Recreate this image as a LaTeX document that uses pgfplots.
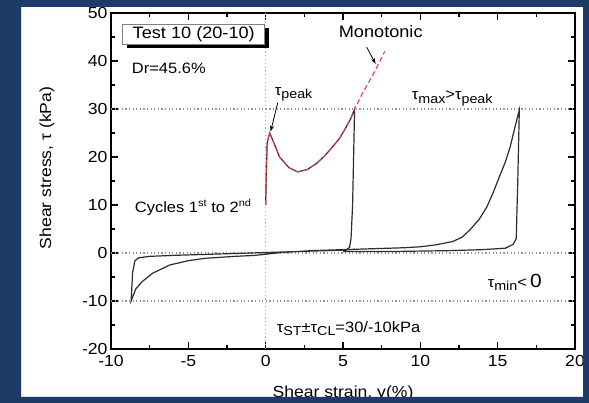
\documentclass[border=0pt]{standalone}
\usepackage{fontspec}
\setmainfont{Liberation Sans}[FakeStretch=1.1]
\usepackage{pgfplots}
\pgfplotsset{compat=1.18}
\usetikzlibrary{shadows,arrows.meta}

\definecolor{slideblue}{RGB}{30,58,102}
\definecolor{refgray}{RGB}{150,150,150}
\definecolor{monored}{RGB}{228,60,72}
\definecolor{curvegray}{RGB}{45,45,45}

\newcommand{\lowtxt}[1]{\raisebox{-0.45ex}{\fontsize{13bp}{15bp}\selectfont #1}}
\newcommand{\hightxt}[1]{\raisebox{0.7ex}{\fontsize{10bp}{12bp}\selectfont #1}}

\begin{document}
\begin{tikzpicture}
\path[use as bounding box] (0bp,0bp) rectangle (589bp,403bp);
\clip (0bp,0bp) rectangle (589bp,403bp);
\fill[slideblue] (0bp,0bp) rectangle (589bp,403bp);
\fill[white] (21bp,6bp) rectangle (583bp,396bp);
\begin{axis}[
  at={(111bp,54bp)}, anchor=south west,
  scale only axis, width=464bp, height=336bp,
  xmin=-10, xmax=20, ymin=-20, ymax=50,
  xtick={-10,-5,...,20}, ytick={-20,-10,...,50},
  minor tick num=1,
  tick align=inside, tick pos=both,
  major tick length=7bp, minor tick length=4bp,
  axis line style={line width=1.2bp},
  every tick/.style={black, line width=1.1bp},
  tick label style={font=\fontsize{16bp}{19bp}\selectfont},
  /pgf/number format/assume math mode=true,
  xticklabel style={yshift=-3bp},
  xlabel={Shear strain, γ(\%)},
  ylabel={Shear stress, τ (kPa)},
  label style={font=\fontsize{16bp}{19bp}\selectfont},
  xlabel style={at={(axis description cs:0.5,-0.143)}, anchor=base},
  ylabel style={at={(axis description cs:-0.138,0.539)}, anchor=center},
]
% reference levels
\addplot[refgray, line width=1.1bp, dash pattern=on 1.2bp off 2.4bp] coordinates {(-10,30) (20,30)};
\addplot[refgray, line width=1.1bp, dash pattern=on 1.2bp off 2.4bp] coordinates {(-10,0) (20,0)};
\addplot[refgray, line width=1.1bp, dash pattern=on 1.2bp off 2.4bp] coordinates {(-10,-10) (20,-10)};
\addplot[refgray!80, line width=0.9bp, dash pattern=on 1.2bp off 2.6bp] coordinates {(0,-20) (0,50)};

% cyclic test, cycles 1 to 2
\addplot[curvegray, line width=1.2bp] coordinates {
(0,10) (0.05,18) (0.1,23) (0.26,25) (0.5,23.2) (0.9,20) (1.5,17.8) (2.07,16.9)
(2.7,17.4) (3.3,18.7) (3.8,20.2) (4.3,22) (4.8,24) (5.2,26.2) (5.5,28) (5.75,30)
(5.62,10) (5.52,3) (5.42,1.2) (5.2,0.6) (4,0.5) (2,0.3) (0,0.1) (-2,-0.1)
(-4,-0.3) (-6,-0.5) (-7.5,-0.7) (-8.2,-1) (-8.45,-1.6) (-8.6,-4) (-8.7,-10)
(-8.4,-7.5) (-8,-6) (-7.3,-4.2) (-6.2,-2.5) (-5,-1.6) (-3.9,-1.1) (-2,-0.7)
(-0.7,-0.5) (1,0.1) (3,0.5) (5,0.7) (7,0.9) (9,1.1) (10,1.3) (11,1.7)
(12.1,2.4) (12.7,3.3) (13.2,4.8) (13.8,7) (14.3,9.6) (14.7,12.5) (15.1,15.8)
(15.5,19) (15.8,22) (16.1,26) (16.4,29.8) (16.3,15) (16.2,3) (16.0,1.8)
(15.5,1.0) (14,0.7) (12,0.5) (10,0.4) (8,0.3) (6,0.3) (5,0.3)
};

% monotonic test
\addplot[monored, line width=1.1bp, dash pattern=on 5bp off 3bp] coordinates {
(0,10) (0.05,18) (0.1,23) (0.26,25) (0.5,23.2) (0.9,20) (1.5,17.8) (2.07,16.9)
(2.7,17.4) (3.3,18.7) (3.8,20.2) (4.3,22) (4.8,24) (5.2,26.2) (5.5,28) (5.75,30)
(6.3,33.5) (7,37.5) (7.7,42)
};

% annotations
\node[draw=gray, fill=white, line width=0.6bp, minimum width=142bp, minimum height=20bp,
      inner sep=0pt, font=\fontsize{16.5bp}{19bp}\selectfont,
      drop shadow={shadow xshift=4bp, shadow yshift=-4bp, fill=black, opacity=1}]
      at (axis cs:-4.65,45.6) {Test 10 (20-10)};
\node[anchor=base west, inner sep=0pt, font=\fontsize{15bp}{18bp}\selectfont]
      at (axis cs:-8.66,37.3) {Dr=45.6\%};
\node[anchor=base west, inner sep=0pt, font=\fontsize{16.5bp}{19bp}\selectfont]
      at (axis cs:4.72,44.8) {Monotonic};
\draw[-{Stealth[length=6bp,width=4bp]}, line width=0.8bp] (axis cs:6.53,42.9) -- (axis cs:7.11,39.4);
\node[anchor=base west, inner sep=0pt, font=\fontsize{15bp}{18bp}\selectfont]
      at (axis cs:0.58,32.9) {τ\lowtxt{peak}};
\draw[-{Stealth[length=6bp,width=4bp]}, line width=0.8bp] (axis cs:0.78,31.3) -- (axis cs:0.32,25.3);
\node[anchor=base west, inner sep=0pt, font=\fontsize{15bp}{18bp}\selectfont]
      at (axis cs:9.44,31.9) {τ\lowtxt{max}>τ\lowtxt{peak}};
\node[anchor=base west, inner sep=0pt, font=\fontsize{15bp}{18bp}\selectfont]
      at (axis cs:-8.47,8.5) {Cycles 1\hightxt{st} to 2\hightxt{nd}};
\node[anchor=base west, inner sep=0pt, font=\fontsize{15bp}{18bp}\selectfont]
      at (axis cs:14.35,-7.1) {τ\lowtxt{min}<{\fontsize{19bp}{21bp}\selectfont\,0}};
\node[anchor=base west, inner sep=0pt, font=\fontsize{15bp}{18bp}\selectfont]
      at (axis cs:0.71,-16.5) {τ\lowtxt{ST}±τ\lowtxt{CL}=30/-10kPa};
\end{axis}
% slide frame over the figure edges
\fill[slideblue, even odd rule] (0bp,0bp) rectangle (589bp,403bp) (21bp,6bp) rectangle (583bp,396bp);
\end{tikzpicture}
\end{document}
